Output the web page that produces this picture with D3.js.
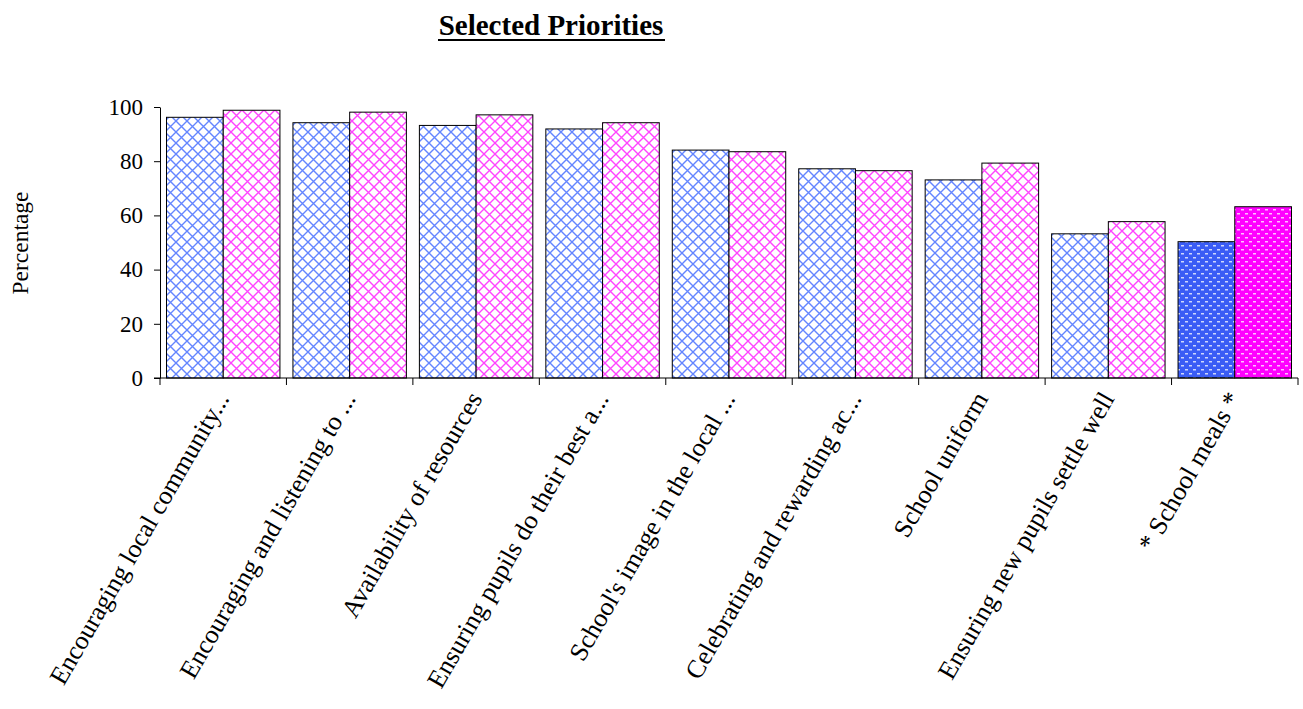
<!DOCTYPE html>
<html><head><meta charset="utf-8">
<script src="https://cdn.jsdelivr.net/npm/d3@7"></script>
<style>
html,body{margin:0;padding:0;background:#fff;}
svg{display:block;}
svg text{font-family:"Liberation Serif","Times New Roman",serif;}
</style></head>
<body>
<svg id="chart" width="1303" height="709"></svg>
<script>
const categories = [
  "Encouraging local community...",
  "Encouraging and listening to ...",
  "Availability of resources",
  "Ensuring pupils do their best a...",
  "School's image in the local ...",
  "Celebrating and rewarding ac...",
  "School uniform",
  "Ensuring new pupils settle well",
  "*  School meals *"
];
const seriesNames = ["Series A", "Series B"];
const seriesA = [96.2, 94.2, 93.2, 91.9, 84.1, 77.2, 73.1, 53.2, 50.3];
const seriesB = [98.8, 98.1, 97.1, 94.2, 83.5, 76.5, 79.3, 57.7, 63.2];
const yTicks = [0, 20, 40, 60, 80, 100];
const highlighted = ["*  School meals *"];

(function () {
const FONT = '"Liberation Serif", "Times New Roman", serif';
const svg = d3.select("#chart");
const mLeft = 160, mRight = 1298, mTop = 107, mBottom = 378;

const defs = svg.append("defs");
function lattice(id, color) {
  const P = 11;
  const p = defs.append("pattern").attr("id", id).attr("patternUnits", "userSpaceOnUse")
    .attr("width", P).attr("height", P);
  p.append("rect").attr("width", P).attr("height", P).attr("fill", "#fff");
  p.append("path").attr("d", `M0,0L${P},${P}M0,${P}L${P},0`)
    .attr("stroke", color).attr("stroke-width", 1.4).attr("fill", "none");
}
function dashes(id, color) {
  const W = 8, H = 8;
  const p = defs.append("pattern").attr("id", id).attr("patternUnits", "userSpaceOnUse")
    .attr("width", W).attr("height", H);
  p.append("rect").attr("width", W).attr("height", H).attr("fill", color);
  p.append("rect").attr("x", 1).attr("y", 1).attr("width", 3).attr("height", 1.5).attr("fill", "#fff").attr("opacity", 0.75);
  p.append("rect").attr("x", 5).attr("y", 5).attr("width", 3).attr("height", 1.5).attr("fill", "#fff").attr("opacity", 0.75);
}
lattice("latA", "#6485ff");
lattice("latB", "#ff44ff");
dashes("dotA", "#3a5cf5");
dashes("dotB", "#ff00ff");

const x0 = d3.scaleBand().domain(categories).range([mLeft, mRight]).padding(0);
const x1 = d3.scaleBand().domain(seriesNames).range([6.5, x0.bandwidth() - 6.5]).padding(0);
const y = d3.scaleLinear().domain([0, 100]).range([mBottom, mTop]);

svg.append("text").attr("x", 551).attr("y", 35).attr("text-anchor", "middle")
  .style("font-family", FONT).attr("font-size", 29).attr("font-weight", "bold")
  .text("Selected Priorities");
svg.append("line").attr("x1", 438).attr("x2", 665).attr("y1", 40).attr("y2", 40)
  .attr("stroke", "#000").attr("stroke-width", 2);

const rows = categories.map((c, i) => ({c, vals: [seriesA[i], seriesB[i]]}));
const g = svg.append("g");
rows.forEach(r => {
  r.vals.forEach((v, j) => {
    const hl = highlighted.includes(r.c);
    const fill = hl ? (j === 0 ? "url(#dotA)" : "url(#dotB)") : (j === 0 ? "url(#latA)" : "url(#latB)");
    g.append("rect")
      .attr("x", x0(r.c) + x1(seriesNames[j]))
      .attr("y", y(v))
      .attr("width", x1.bandwidth())
      .attr("height", y(0) - y(v))
      .attr("fill", fill)
      .attr("stroke", "#000").attr("stroke-width", 1);
  });
});

const ya = svg.append("g").attr("transform", `translate(${mLeft},0)`)
  .call(d3.axisLeft(y).tickValues(yTicks).tickSize(6).tickPadding(11).tickSizeOuter(0));
ya.attr("font-family", null);
ya.select(".domain").attr("stroke", "#000");
ya.selectAll("text").style("font-family", FONT).attr("font-size", 23).attr("fill", "#000");
ya.selectAll("line").attr("stroke", "#000");

const xa = svg.append("g").attr("transform", `translate(0,${mBottom})`);
xa.append("line").attr("x1", mLeft - 6).attr("x2", mRight).attr("y1", 0).attr("y2", 0).attr("stroke", "#000");
const bounds = categories.map(c => x0(c)).concat([mRight]);
xa.selectAll(".tk").data(bounds).enter().append("line")
  .attr("x1", d => d).attr("x2", d => d).attr("y1", 0).attr("y2", 7).attr("stroke", "#000");

svg.append("g").selectAll("text").data(categories).enter().append("text")
  .attr("transform", d => `translate(${x0(d) + x0.bandwidth() / 2 - 1},${mBottom + 16}) rotate(-60)`)
  .attr("text-anchor", "end").attr("dy", "0.35em")
  .style("font-family", FONT).attr("font-size", 26).text(d => d);

svg.append("text").attr("transform", "translate(28,243) rotate(-90)")
  .attr("text-anchor", "middle").style("font-family", FONT).attr("font-size", 23.5).text("Percentage");
})();
</script>
</body></html>
